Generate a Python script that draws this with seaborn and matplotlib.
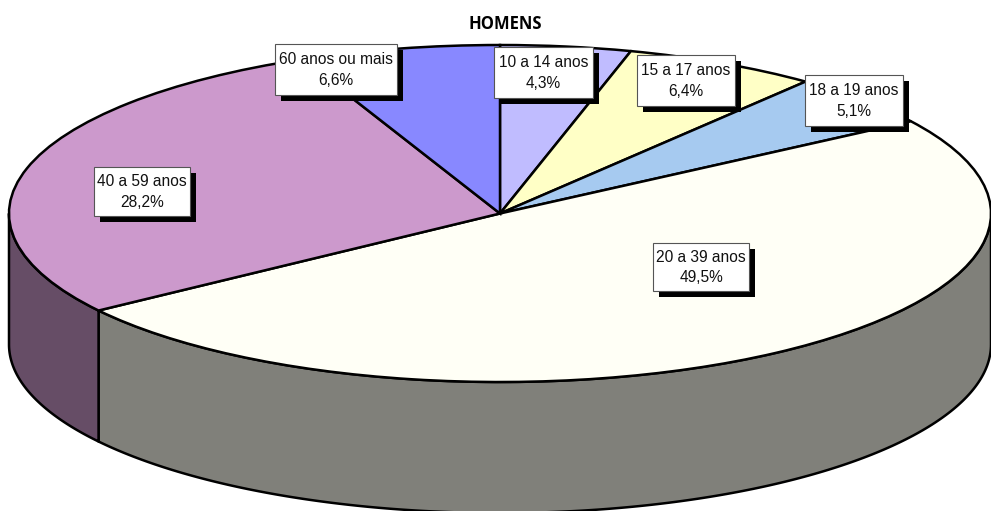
import numpy as np
import matplotlib
matplotlib.use("Agg")
import matplotlib.pyplot as plt
from matplotlib.patches import Rectangle
import seaborn as sns

categories = ["10 a 14 anos", "15 a 17 anos", "18 a 19 anos", "20 a 39 anos", "40 a 59 anos", "60 anos ou mais"]
values = [4.3, 6.4, 5.1, 49.5, 28.2, 6.6]
value_labels = ["4,3%", "6,4%", "5,1%", "49,5%", "28,2%", "6,6%"]
colors = ["#C0BCFF", "#FFFFC6", "#A6CAF0", "#FFFFF6", "#CC99CC", "#8888FF"]
side_colors = ["#605E80", "#808063", "#536578", "#80807A", "#664D66", "#444480"]

W, H = 991, 511
sns.set_theme(style="white")
plt.rcParams["font.family"] = ["Liberation Sans", "DejaVu Sans"]
fig = plt.figure(figsize=(W / 100, H / 100), dpi=100, facecolor="white")

# pie axes: unit circle squashed to the ellipse of the top face
left, right, top, bottom = 9, 991, 45, 382
ax = fig.add_axes([left / W, 1 - bottom / H, (right - left) / W, (bottom - top) / H])
depth = 131 / ((bottom - top) / 2)

edges = 90 - 360 * np.concatenate([[0], np.cumsum(values)]) / np.sum(values)

# side wall: lower half of the ellipse is -180..0 degrees
for i in range(len(values)):
    hi = edges[i]
    lo = edges[i + 1]
    s = max(lo, -180)
    e = min(hi, 0)
    if e <= s:
        continue
    th = np.radians(np.linspace(s, e, 200))
    x, y = np.cos(th), np.sin(th)
    ax.fill(np.r_[x, x[::-1]], np.r_[y, y[::-1] - depth], facecolor=side_colors[i],
            edgecolor="black", lw=1.8, clip_on=False, zorder=1, joinstyle="round")

wedges, _ = ax.pie(values, colors=colors, startangle=90, counterclock=False, radius=1,
                   wedgeprops=dict(edgecolor="black", linewidth=1.8, clip_on=False, zorder=2))
for w in wedges:
    w.set_zorder(2)
ax.set_aspect("auto")
ax.set_xlim(-1, 1)
ax.set_ylim(-1, 1)
ax.axis("off")

# overlay in pixel coordinates for the label boxes
ov = fig.add_axes([0, 0, 1, 1], facecolor="none")
ov.set_xlim(0, W)
ov.set_ylim(H, 0)
ov.axis("off")
boxes = [(494, 47, 99, 51), (637, 55, 98, 51), (805, 75, 98, 51),
         (653, 243, 96, 48), (94, 167, 96, 49), (275, 44, 122, 51)]
for (bx, by, bw, bh), c, v in zip(boxes, categories, value_labels):
    ov.add_patch(Rectangle((bx + 6, by + 6), bw, bh, facecolor="black", edgecolor="black", lw=0))
    ov.add_patch(Rectangle((bx, by), bw, bh, facecolor="white", edgecolor="#555555", lw=0.8))
    ov.text(bx + bw / 2, by + bh / 2 + 0.5, f"{c}\n{v}", ha="center", va="center",
            fontsize=11.2, color="#111111", linespacing=1.45)

ov.text(505, 24, "HOMENS", ha="center", va="center", fontsize=12, fontweight="bold",
        color="black", family=["Open Sans", "DejaVu Sans"])

fig.savefig("out.png", dpi=100, facecolor="white")
